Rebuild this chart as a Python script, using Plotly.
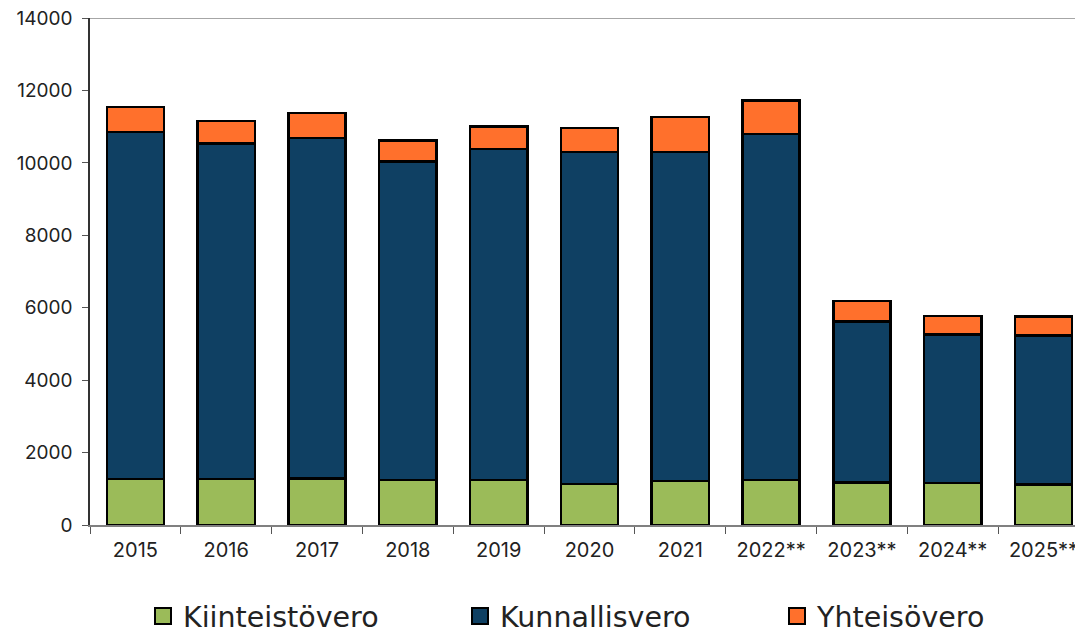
import plotly.graph_objects as go

years = ["2015", "2016", "2017", "2018", "2019", "2020", "2021", "2022**", "2023**", "2024**", "2025**"]
kiinteistovero = [1270, 1270, 1285, 1245, 1245, 1135, 1215, 1245, 1180, 1160, 1125]
kunnallisvero = [9585, 9270, 9395, 8790, 9140, 9160, 9080, 9555, 4435, 4095, 4105]
yhteisovero = [690, 615, 690, 580, 625, 665, 965, 920, 570, 510, 525]

y_ticks = [0, 2000, 4000, 6000, 8000, 10000, 12000, 14000]

colors = {"Kiinteistövero": "#9BBB59", "Kunnallisvero": "#0F4063", "Yhteisövero": "#FF702C"}
series = [("Kiinteistövero", kiinteistovero), ("Kunnallisvero", kunnallisvero), ("Yhteisövero", yhteisovero)]

fig = go.Figure()
for name, vals in series:
    fig.add_trace(go.Bar(
        x=years, y=vals, name=name, showlegend=False,
        marker=dict(color=colors[name], line=dict(color="#000000", width=2.5)),
    ))
# legend entries with larger square symbols
for name, _ in series:
    fig.add_trace(go.Scatter(
        x=[None], y=[None], mode="markers", name=name,
        marker=dict(symbol="square", size=16, color=colors[name], line=dict(color="#000000", width=2)),
    ))

# the page body has an 8px margin, so the figure is 8px smaller than the window
fig.update_layout(
    barmode="stack",
    bargap=0.37,
    width=1075, height=630,
    margin=dict(l=82, r=0, t=10, b=113, autoexpand=False),
    plot_bgcolor="white", paper_bgcolor="white",
    font=dict(family="Inter, Roboto, sans-serif", color="#222222"),
    showlegend=True,
    legend=dict(
        orientation="h", xref="container", x=135 / 1075, xanchor="left",
        yref="container", y=0.034, yanchor="middle",
        font=dict(family="DejaVu Sans, sans-serif", size=28.5, color="#222222"),
        entrywidth=272, itemwidth=30, traceorder="normal",
        bgcolor="rgba(0,0,0,0)",
    ),
    xaxis=dict(
        range=[-0.5, 10.435], automargin=False,
        showline=True, linecolor="#808080", linewidth=1.5,
        ticks="outside", tickson="boundaries", ticklen=7, tickcolor="#555555", tickwidth=1,
        tickfont=dict(size=20, color="#222222"),
        ticklabelstandoff=6,
        showgrid=False,
    ),
    yaxis=dict(
        range=[0, 14000], tickvals=y_ticks, ticktext=[str(v) for v in y_ticks],
        automargin=False, ticklabeloverflow="allow",
        showline=True, linecolor="#333333", linewidth=1.5,
        ticks="outside", ticklen=6, tickcolor="#555555",
        tickfont=dict(size=19, color="#222222"),
        ticklabelstandoff=6,
        showgrid=False, zeroline=False,
    ),
    shapes=[dict(type="line", xref="paper", yref="y", x0=0, x1=1, y0=14000, y1=14000,
                 line=dict(color="#888888", width=1.5))],
)

fig.write_html("out.html")
